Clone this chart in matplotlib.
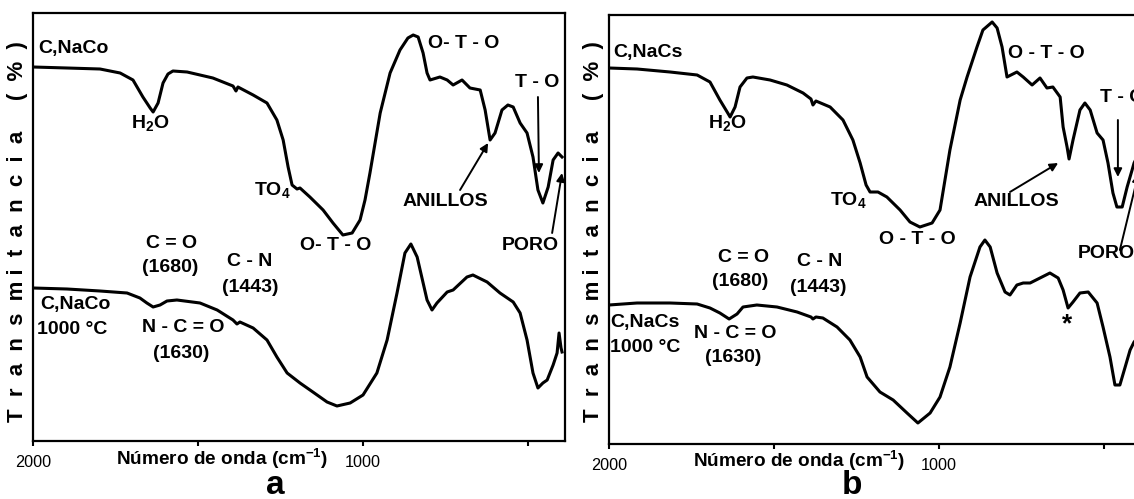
import matplotlib
matplotlib.use("Agg")
import matplotlib.pyplot as plt

plt.rcParams['font.family'] = ['Liberation Sans', 'DejaVu Sans']
plt.rcParams['mathtext.fontset'] = 'custom'
plt.rcParams['mathtext.rm'] = 'Liberation Sans:bold'
plt.rcParams['mathtext.it'] = 'Liberation Sans:bold'
plt.rcParams['mathtext.bf'] = 'Liberation Sans:bold'
plt.rcParams['mathtext.default'] = 'rm'

# ---- FTIR spectra (wavenumber in cm^-1, transmittance in arbitrary units) ----
# (a) C,NaCo
a_top_wn = [2000, 1897, 1797, 1736, 1697, 1667, 1645, 1636, 1621, 1606, 1591, 1576,
            1533, 1455, 1394, 1385, 1379, 1333, 1291, 1261, 1242, 1227, 1215, 1200,
            1191, 1161, 1121, 1091, 1061, 1033, 1009, 994, 979, 948, 918, 888, 864,
            848, 833, 818, 806, 797, 767, 745, 727, 700, 676, 645, 630, 615, 600,
            579, 561, 545, 524, 503, 485, 470, 455, 439, 424, 409, 397]
a_top_T = [374, 373, 372, 368, 361, 344, 333, 329, 338, 358, 367, 370,
           369, 363, 355, 350, 354, 346, 338, 321, 301, 274, 256, 252,
           253, 244, 231, 218, 206, 208, 221, 241, 268, 328, 368, 391, 403,
           406, 404, 388, 368, 361, 364, 361, 356, 361, 353, 351, 331, 301, 308,
           331, 336, 334, 318, 308, 284, 251, 238, 254, 281, 288, 284]

# (a) C,NaCo 1000 °C
a_bot_wn = [2000, 1897, 1797, 1715, 1676, 1655, 1636, 1615, 1594, 1564, 1494, 1442,
            1394, 1382, 1373, 1333, 1291, 1261, 1230, 1191, 1152, 1109, 1079, 1039,
            1000, 958, 927, 897, 873, 855, 836, 806, 791, 776, 745, 727, 685, 667,
            624, 585, 545, 524, 503, 485, 470, 455, 442, 424, 412, 406, 400, 397]
a_bot_T = [153, 152, 150, 148, 143, 138, 134, 136, 140, 141, 138, 131,
           121, 117, 119, 113, 101, 84, 68, 58, 49, 39, 35, 38,
           46, 68, 101, 148, 188, 197, 184, 141, 131, 138, 149, 151, 164, 166,
           159, 148, 139, 128, 101, 68, 53, 58, 61, 76, 88, 108, 93, 89]

# (b) C,NaCs
b_top_wn = [2000, 1915, 1815, 1733, 1694, 1664, 1642, 1633, 1618, 1603, 1582, 1564,
            1512, 1461, 1412, 1388, 1382, 1373, 1330, 1291, 1261, 1239, 1221, 1209,
            1185, 1158, 1118, 1088, 1058, 1021, 997, 967, 936, 915, 885, 867, 839,
            824, 809, 794, 764, 745, 718, 694, 673, 655, 633, 624, 612, 606, 594,
            573, 558, 542, 521, 503, 488, 473, 461, 445, 430, 415, 409, 397]
b_top_T = [376, 375, 372, 369, 362, 344, 332, 327, 337, 357, 366, 367,
           364, 359, 351, 345, 339, 343, 337, 324, 304, 281, 259, 252,
           252, 247, 234, 222, 217, 221, 234, 294, 344, 367, 397, 414, 422,
           416, 397, 367, 372, 367, 359, 366, 356, 357, 347, 317, 297, 285, 304,
           334, 341, 334, 311, 304, 281, 251, 237, 237, 257, 274, 281, 289]

# (b) C,NaCs 1000 °C
b_bot_wn = [2000, 1915, 1815, 1733, 1694, 1664, 1636, 1612, 1594, 1552, 1491, 1430,
            1388, 1382, 1373, 1352, 1309, 1270, 1239, 1218, 1179, 1139, 1097, 1064,
            1027, 997, 967, 936, 906, 876, 861, 845, 824, 800, 785, 764, 745, 724,
            694, 664, 639, 624, 609, 594, 573, 548, 521, 503, 482, 467, 452, 436,
            421, 409, 391]
b_bot_T = [139, 141, 141, 140, 136, 131, 125, 130, 137, 139, 137, 132,
           127, 125, 127, 126, 117, 104, 87, 67, 52, 44, 31, 21,
           31, 47, 77, 121, 167, 197, 204, 197, 171, 152, 149, 159, 161, 161,
           166, 171, 166, 154, 136, 142, 151, 152, 141, 117, 87, 59, 59, 77,
           94, 102, 109]

panels = ['a', 'b']
xlabel = 'Número de onda (cm$^{-1}$)'
ylabel = 'T  r  a  n  s  m i  t  a  n  c  i  a     (  %  )'

W, H = 1134, 499
fig = plt.figure(figsize=(W / 100, H / 100), dpi=100)

ax_a = fig.add_axes([33 / W, 58 / H, 532 / W, 428 / H])
ax_b = fig.add_axes([609 / W, 55 / H, 532 / W, 429 / H])

bold = dict(fontsize=14, fontweight='bold', color='black')

for ax, top, bot, ymax in [(ax_a, (a_top_wn, a_top_T), (a_bot_wn, a_bot_T), 428),
                           (ax_b, (b_top_wn, b_top_T), (b_bot_wn, b_bot_T), 429)]:
    ax.plot(*top, color='black', lw=2.2, solid_joinstyle='round')
    ax.plot(*bot, color='black', lw=2.2, solid_joinstyle='round')
    ax.set_xlim(2000, 388)
    ax.set_ylim(0, ymax)
    ax.set_xticks([2000, 1000])
    ax.set_xticklabels(['2000', '1000'], fontsize=11.7)
    ax.set_xticks([1500, 500], minor=True)
    ax.tick_params(axis='x', which='both', direction='out', length=3.8, width=1.5, pad=6)
    ax.set_yticks([])
    for sp in ax.spines.values():
        sp.set_linewidth(1.6)
    ax.set_xlabel(xlabel, fontsize=13.7, fontweight='bold')

ax_a.xaxis.set_label_coords(0.355, -0.014)
ax_b.xaxis.set_label_coords(0.357, -0.012)

arrow = dict(arrowstyle='-|>', color='black', lw=1.4, mutation_scale=12, shrinkA=0, shrinkB=0)

# ---- labels, panel a ----
ax_a.text(1985, 393, 'C,NaCo', ha='left', va='center', **bold)
ax_a.text(1645, 318, 'H$_2$O', ha='center', va='center', **bold)
ax_a.text(1276, 251, 'TO$_4$', ha='center', va='center', **bold)
ax_a.text(803, 398, 'O- T - O', ha='left', va='center', **bold)
ax_a.text(473, 359, 'T - O', ha='center', va='center', **bold)
ax_a.annotate('', xy=(467, 268), xytext=(470, 344), arrowprops=arrow)
ax_a.text(752, 239, 'ANILLOS', ha='center', va='center', **bold)
ax_a.annotate('', xy=(621, 298), xytext=(706, 251), arrowprops=arrow)
ax_a.text(1082, 196, 'O- T - O', ha='center', va='center', **bold)
ax_a.text(494, 196, 'PORO', ha='center', va='center', **bold)
ax_a.annotate('', xy=(397, 268), xytext=(427, 208), arrowprops=arrow)
ax_a.text(1579, 198, 'C = O', ha='center', va='center', **bold)
ax_a.text(1585, 173, '(1680)', ha='center', va='center', **bold)
ax_a.text(1342, 179, 'C - N', ha='center', va='center', **bold)
ax_a.text(1342, 154, '(1443)', ha='center', va='center', **bold)
ax_a.text(1979, 136, 'C,NaCo', ha='left', va='center', **bold)
ax_a.text(1988, 112, '1000 °C', ha='left', va='center', **bold)
ax_a.text(1545, 114, 'N - C = O', ha='center', va='center', **bold)
ax_a.text(1552, 88, '(1630)', ha='center', va='center', **bold)

# ---- labels, panel b ----
ax_b.text(1988, 392, 'C,NaCs', ha='left', va='center', **bold)
ax_b.text(1642, 321, 'H$_2$O', ha='center', va='center', **bold)
ax_b.text(1276, 244, 'TO$_4$', ha='center', va='center', **bold)
ax_b.text(676, 391, 'O - T - O', ha='center', va='center', **bold)
ax_b.text(512, 347, 'T - O', ha='left', va='center', **bold)
ax_b.annotate('', xy=(458, 267), xytext=(458, 324), arrowprops=arrow)
ax_b.text(767, 242, 'ANILLOS', ha='center', va='center', **bold)
ax_b.annotate('', xy=(639, 281), xytext=(785, 252), arrowprops=arrow)
ax_b.text(1067, 204, 'O - T - O', ha='center', va='center', **bold)
ax_b.text(579, 191, 'PORO', ha='left', va='center', **bold)
ax_b.annotate('', xy=(396, 270), xytext=(452, 194), arrowprops=arrow)
ax_b.text(1591, 187, 'C = O', ha='center', va='center', **bold)
ax_b.text(1603, 162, '(1680)', ha='center', va='center', **bold)
ax_b.text(1361, 182, 'C - N', ha='center', va='center', **bold)
ax_b.text(1367, 157, '(1443)', ha='center', va='center', **bold)
ax_b.text(1997, 122, 'C,NaCs', ha='left', va='center', **bold)
ax_b.text(1997, 97, '1000 °C', ha='left', va='center', **bold)
ax_b.text(1618, 111, 'N - C = O', ha='center', va='center', **bold)
ax_b.text(1624, 86, '(1630)', ha='center', va='center', **bold)
ax_b.text(612, 120, '*', ha='center', va='center', fontsize=19, fontweight='bold')

# ---- axis titles and panel letters ----
fig.text(18 / W, 1 - 232 / H, ylabel, rotation=90, ha='center', va='center',
         fontsize=16, fontweight='bold')
fig.text(593 / W, 1 - 232 / H, ylabel, rotation=90, ha='center', va='center',
         fontsize=16, fontweight='bold')
fig.text(275 / W, 1 - 494 / H, panels[0], ha='center', va='baseline',
         fontsize=24, fontweight='bold')
fig.text(852 / W, 1 - 494 / H, panels[1], ha='center', va='baseline',
         fontsize=24, fontweight='bold')

fig.savefig('out.png', dpi=100)
